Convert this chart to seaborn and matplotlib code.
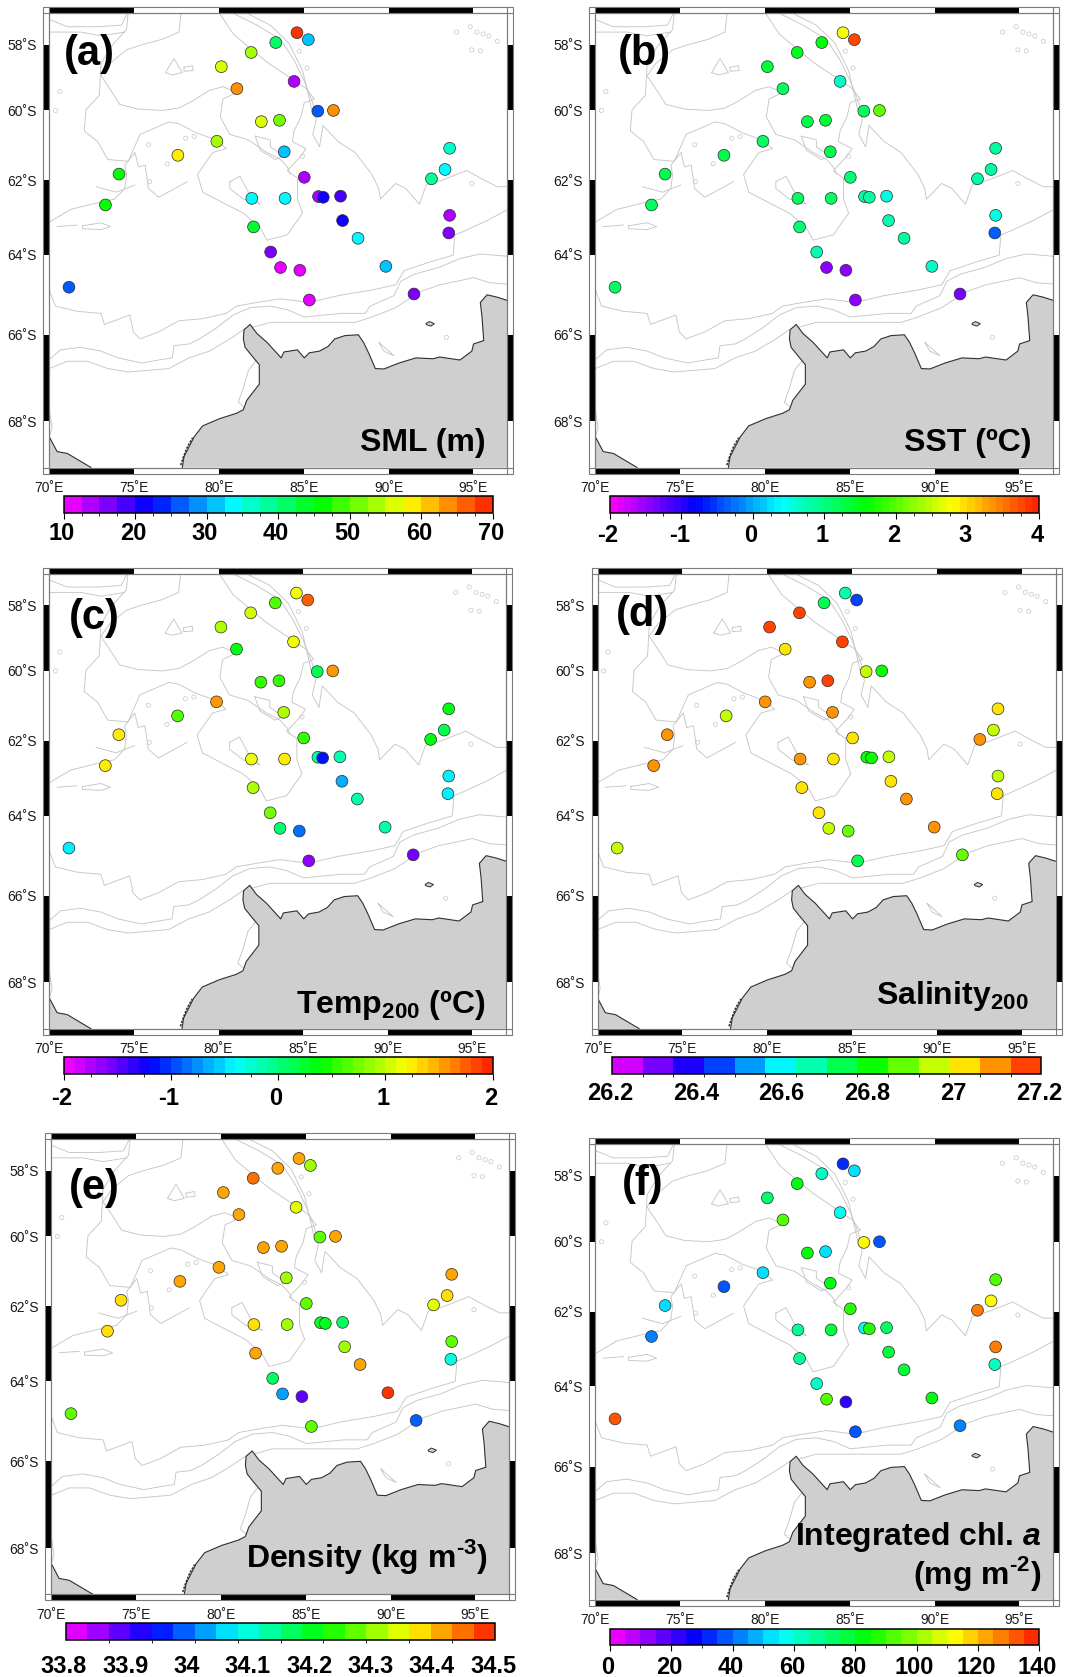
import numpy as np
import pandas as pd
import matplotlib
matplotlib.use("Agg")
import matplotlib.pyplot as plt
import matplotlib.colors as mcolors
from matplotlib.cm import ScalarMappable
from matplotlib.patches import Rectangle
from matplotlib.transforms import ScaledTranslation
import seaborn as sns

# station positions (deg E, deg S)
lon = [84.6, 85.27, 83.35, 81.9, 80.14, 81.06, 84.43, 85.83, 86.75, 82.5, 83.57, 79.88, 83.85,
       77.58, 74.11, 73.31, 85.03, 81.94, 83.9, 85.87, 86.15, 87.17, 87.29, 88.2, 82.04, 83.05,
       83.63, 84.77, 85.33, 89.84, 91.5, 93.55, 93.6, 92.53, 93.33, 93.6, 71.16]
lat = [57.62, 57.84, 57.93, 58.24, 58.68, 59.35, 59.13, 60.02, 60.0, 60.33, 60.29, 60.9, 61.2,
       61.3, 61.83, 62.68, 61.92, 62.5, 62.5, 62.45, 62.47, 62.44, 63.1, 63.57, 63.27, 63.93,
       64.33, 64.4, 65.15, 64.3, 65.0, 63.43, 62.96, 61.96, 61.7, 61.1, 64.83]

sml = [69, 31, 40, 53, 57, 63, 13, 26, 63, 57, 51, 54, 31, 59, 47, 47, 13, 33, 33, 14, 21, 19, 21,
       33, 43, 17, 12, 11, 11, 31, 16, 15, 13, 39, 33, 37, 26]
sst = [2.8, 3.8, 1.5, 1.45, 1.4, 1.2, 0.65, 1.15, 2.1, 1.3, 1.35, 1.2, 1.25, 1.25, 1.25, 1.2, 1.05,
       1.2, 1.1, 0.85, 0.9, 0.6, 0.8, 0.9, 1.05, 0.75, -1.5, -1.45, -1.45, 0.65, -1.4, -0.3, 0.55,
       0.85, 0.9, 0.9, 1.15]
temp200 = [1.15, 1.75, 0.65, 1.05, 0.95, 0.4, 1.15, 0.2, 1.5, 0.5, 0.5, 1.5, 0.95, 0.7, 1.3, 1.25,
           0.5, 1.1, 1.3, -0.1, -1.2, -0.1, -0.65, -0.1, 0.95, 0.8, 0.0, -0.8, -1.65, -0.15, -1.6,
           -0.4, -0.4, 0.4, 0.2, 0.35, -0.5]
salinity = [26.65, 26.45, 26.77, 27.17, 27.17, 27.03, 27.17, 26.93, 26.8, 27.1, 27.17, 27.1, 27.1,
            26.93, 27.1, 27.1, 27.03, 27.1, 27.03, 26.84, 26.84, 26.93, 27.03, 27.1, 27.03, 27.03,
            26.93, 26.85, 26.75, 27.1, 26.85, 27.03, 26.93, 27.1, 26.93, 27.03, 26.93]
density = [34.42, 34.29, 34.42, 34.46, 34.42, 34.42, 34.35, 34.26, 34.42, 34.42, 34.42, 34.42, 34.29,
           34.42, 34.37, 34.37, 34.26, 34.37, 34.30, 34.21, 34.21, 34.16, 34.30, 34.42, 34.42, 34.15,
           34.01, 33.87, 34.26, 34.47, 33.98, 34.10, 34.26, 34.35, 34.37, 34.42, 34.26]
chl = [30, 52, 64, 84, 74, 90, 56, 112, 38, 83, 52, 50, 84, 38, 50, 42, 88, 66, 78, 58, 87, 70, 77,
       78, 66, 63, 91, 22, 38, 84, 42, 63, 129, 129, 112, 90, 134]

coast_main = [(77.84, 69.0), (77.94, 68.77), (78.54, 68.34), (79.04, 68.1), (80.04, 67.94), (81.04, 67.82),
              (81.44, 67.74), (81.64, 67.53), (82.04, 67.33), (82.38, 67.16), (82.38, 66.71), (81.94, 66.5),
              (81.54, 66.3), (81.44, 66.1), (81.48, 65.88), (81.84, 65.75), (82.24, 65.97), (82.83, 66.18),
              (83.67, 66.55), (83.83, 66.41), (84.63, 66.36), (85.03, 66.55), (85.33, 66.43), (85.93, 66.39),
              (86.43, 66.28), (86.83, 66.1), (87.43, 66.02), (88.22, 66.0), (88.52, 66.18), (88.82, 66.43),
              (89.22, 66.8), (89.72, 66.81), (90.62, 66.67), (91.62, 66.55), (92.62, 66.57), (93.01, 66.53),
              (94.21, 66.6), (94.91, 66.39), (95.01, 66.22), (95.61, 66.14), (95.51, 65.57), (95.41, 65.21),
              (95.81, 65.02), (96.41, 65.08), (97.0, 65.16)]
coast_west = [(70.0, 68.34), (70.46, 68.66), (71.06, 68.7), (72.46, 69.0)]
island = [(92.2, 65.73), (92.4, 65.68), (92.7, 65.73), (92.5, 65.79), (92.25, 65.76), (92.2, 65.73)]
rocks = [(77.75, 68.95), (77.9, 68.78), (78.15, 68.55), (78.45, 68.36)]

contours = [
    [(70, 66.59), (70.66, 66.36), (71.86, 66.3), (73.05, 66.39), (74.05, 66.55), (75.45, 66.67), (76.45, 66.6),
     (77.25, 66.55), (77.35, 66.26), (78.24, 66.22), (78.84, 66.1), (79.84, 65.84), (80.84, 65.52), (81.84, 65.34),
     (83.03, 65.3), (84.03, 65.39), (85.03, 65.57), (86.23, 65.52), (87.23, 65.48), (88.62, 65.48), (88.92, 65.3),
     (90.32, 65.04), (90.72, 64.68), (91.52, 64.5), (93.01, 64.32), (94.21, 64.1), (95.41, 63.98), (97, 64.04)],
    [(70, 66.8), (71.06, 66.63), (72.26, 66.63), (73.45, 66.8), (74.65, 66.88), (75.85, 66.84), (77.05, 66.8),
     (78.24, 66.55), (79.44, 66.39), (80.64, 66.1), (81.44, 65.88), (83.03, 65.7), (84.43, 65.7), (86.03, 65.7),
     (88.02, 65.7), (89.02, 65.57), (90.42, 65.34), (91.82, 64.95), (93.01, 64.77), (95.01, 64.59), (96.01, 64.72),
     (97, 64.75)],
    [(70, 64.9), (70.36, 65.3), (71.66, 65.43), (73.05, 65.48), (73.25, 65.75), (74.75, 65.52), (74.95, 65.93),
     (75.35, 66.1), (76.45, 65.93), (77.64, 65.66), (79.04, 65.61), (80.44, 65.48), (81.04, 65.3), (82.24, 65.21),
     (83.63, 65.12), (85.33, 65.21), (87.03, 65.04), (89.02, 64.9), (90.42, 64.77), (90.92, 64.41), (92.42, 64.19),
     (93.81, 64.01), (93.91, 63.48), (94.41, 63.39), (95.81, 63.1), (97, 62.81)],
    [(77.76, 57.0), (77.64, 57.6), (76.65, 57.83), (75.45, 58), (74.55, 58.16), (73.55, 58.59), (73.05, 58.96),
     (73.75, 59.5), (74.15, 59.82), (75.25, 59.96), (76.65, 60), (77.64, 59.93), (78.44, 59.72), (79.44, 59.4),
     (80.24, 59.29), (81.04, 59.47), (80.24, 59.66), (80.08, 60.19), (80.64, 60.7), (81.74, 60.86), (82.83, 61.22),
     (83.63, 61.42), (84.03, 61.63), (84.23, 61.84)],
    [(74.65, 57.0), (74.55, 57.52), (73.65, 58.05), (73.05, 58.59), (72.95, 59.55), (72.16, 59.98), (72.06, 60.6),
     (72.85, 60.91), (73.45, 61.42), (74.65, 61.47), (75.35, 60.7), (77.05, 60.34), (77.64, 60.39), (78.64, 60.65),
     (79.84, 60.86), (80.44, 61.11), (79.64, 61.22), (79.04, 61.63), (78.74, 61.84), (79.04, 62.33), (80.24, 62.62),
     (81.44, 62.9), (82.44, 63.29), (82.83, 63.62), (84.03, 63.48), (84.93, 62.9), (84.63, 62.52), (84.63, 61.94),
     (84.03, 61.74), (84.83, 61.32), (85.13, 61.11), (84.33, 60.91), (84.43, 60.6), (84.83, 60.19), (85.03, 59.77),
     (85.63, 59.66), (85.13, 59.34), (84.03, 58.96), (82.83, 58.54), (81.84, 58.11), (80.84, 57.66), (80.04, 57.0)],
    [(80.84, 57.0), (82.24, 57.38), (83.63, 57.83), (84.43, 58.48), (85.03, 59.12), (85.53, 59.77), (85.73, 60.29),
     (85.53, 60.7), (85.93, 61.06), (86.13, 60.44), (87.03, 60.91), (88.02, 61.22), (89.02, 61.84), (89.42, 62.23),
     (89.52, 62.52), (90.42, 62.09), (91.02, 62.23), (91.82, 62.66), (92.22, 62.13), (93.21, 61.99), (94.61, 61.73),
     (95.41, 61.94), (96.41, 62.18), (97, 62.18)],
    [(81.64, 57.0), (83.03, 57.38), (84.13, 57.95), (84.93, 58.8), (85.33, 59.66), (85.47, 59.98)],
    [(70, 57.2), (71.06, 57.43), (72.85, 57.43), (74.25, 57.38), (74.6, 57.0)],
    [(70, 57.6), (71.86, 57.6), (73.05, 57.72), (74.45, 57.6)],
    [(70, 63.14), (71.26, 62.8), (72.85, 62.62), (73.85, 62.52), (74.45, 62.23), (74.55, 61.84), (74.45, 61.58),
     (75.05, 61.22), (75.25, 61.63), (75.65, 61.58), (75.85, 62.23), (76.45, 62.47), (78.14, 62.04)],
    [(72.75, 62.18), (73.95, 62.33), (75.05, 62.13)],
    [(71.96, 63.24), (73.05, 63.16), (73.61, 63.26), (73.05, 63.34), (71.96, 63.32), (71.96, 63.24)],
    [(70.46, 63.26), (71.66, 63.22)],
    [(76.85, 58.86), (77.35, 58.43), (77.84, 58.86), (77.25, 58.93), (76.85, 58.86)],
    [(77.94, 58.7), (78.44, 58.65), (78.48, 58.8), (77.94, 58.82), (77.94, 58.7)],
    [(80.64, 62.04), (81.24, 61.89), (81.74, 62.33), (82.44, 62.66), (81.44, 62.52), (80.64, 62.23), (80.64, 62.04)],
    [(82.14, 60.75), (83.03, 60.86), (83.03, 61.06), (83.83, 61.32), (83.33, 61.42), (82.44, 61.16), (82.14, 60.75)],
    [(89.42, 66.18), (90.32, 66.5), (89.72, 66.39), (89.42, 66.18)],
    [(82.24, 66.59), (81.74, 66.84), (81.44, 67.25), (81.14, 67.57), (81.64, 67.74)],
    [(70, 67.74), (70.16, 68.14), (70, 68.34)],
]
ring_lon = [94.81, 95.21, 95.57, 95.91, 96.41, 95.41, 94.91, 94.01, 70.62, 70.36, 75.85, 78.04, 78.54, 76.95, 75.91,
            94.91, 93.41, 84.73, 85.19, 84.93]
ring_lat = [57.43, 57.6, 57.66, 57.72, 57.89, 58.19, 58.16, 57.6, 59.44, 60.0, 61.0, 60.81, 60.76, 61.54, 62.04,
            62.09, 66.06, 58.2, 58.72, 61.33]

lon_ticks = [70, 75, 80, 85, 90, 95]
lat_ticks = [58, 60, 62, 64, 66, 68]

W, H = 1067, 1677

stations = pd.DataFrame({"lon": lon, "lat": lat, "sml": sml, "sst": sst, "temp200": temp200,
                         "salinity": salinity, "density": density, "chl": chl})

sns.set_style("white")
plt.rcParams["font.family"] = ["Liberation Sans", "DejaVu Sans"]
plt.rcParams["mathtext.fontset"] = "custom"
plt.rcParams["mathtext.rm"] = "Liberation Sans"
plt.rcParams["mathtext.bf"] = "Liberation Sans:bold"
plt.rcParams["mathtext.bfit"] = "Liberation Sans:italic:bold"
plt.rcParams["axes.grid"] = False
plt.rcParams["text.color"] = "black"
plt.rcParams["xtick.color"] = "black"
plt.rcParams["ytick.color"] = "black"

rainbow = mcolors.LinearSegmentedColormap.from_list(
    "gmt_rainbow", ["#ff00ff", "#0000ff", "#00ffff", "#00ff00", "#ffff00", "#ff1a00"])


def merc(y):
    return np.arctanh(np.sin(np.radians(y)))


def merc_inv(y):
    return np.degrees(np.arcsin(np.tanh(y)))


def draw_map(ax, col, norm, cmap):
    ax.set_xlim(70, 97)
    ax.set_yscale("function", functions=(merc, merc_inv))
    ax.set_ylim(69, 57)

    for line in contours:
        xs, ys = zip(*line)
        ax.plot(xs, ys, color="#c6c6c6", lw=0.65, zorder=1)
    ax.scatter(ring_lon, ring_lat, s=9, facecolors="none", edgecolors="#c6c6c6", linewidths=0.5, zorder=1)

    xs, ys = zip(*coast_main)
    ax.fill(list(xs) + [97], list(ys) + [69], color="#cfcfcf", lw=0, zorder=2)
    ax.plot(xs, ys, color="#303030", lw=0.8, zorder=3)
    xs, ys = zip(*coast_west)
    ax.fill(list(xs) + [70], list(ys) + [69], color="#cfcfcf", lw=0, zorder=2)
    ax.plot(xs, ys, color="#303030", lw=0.8, zorder=3)
    xs, ys = zip(*island)
    ax.fill(xs, ys, facecolor="#cfcfcf", edgecolor="#303030", lw=0.7, zorder=3)
    xs, ys = zip(*rocks)
    ax.plot(xs, ys, color="#303030", lw=1.1, ls=(0, (1.5, 0.8)), zorder=3)

    sns.scatterplot(data=stations, x="lon", y="lat", hue=col, palette=cmap, hue_norm=norm, s=72,
                    edgecolor="#2b2b2b", linewidth=0.5, legend=False, ax=ax, zorder=5)
    ax.set_xlabel("")
    ax.set_ylabel("")
    ax.set_xlim(70, 97)
    ax.set_ylim(69, 57)
    ax.set_xticks(lon_ticks, [f"{v}˚E" for v in lon_ticks])
    ax.set_yticks(lat_ticks, [f"{v}˚S" for v in lat_ticks])
    ax.minorticks_off()
    ax.tick_params(axis="x", length=0, pad=9.5, labelsize=10, colors="#1a1a1a")
    ax.tick_params(axis="y", length=0, pad=9, labelsize=10, colors="#1a1a1a")
    for s in ax.spines.values():
        s.set_color("#7a7a7a")
        s.set_linewidth(0.8)
        s.set_zorder(6)


def draw_frame(ax, x0, x1, y0, y1):
    bw = 6.0 / (x1 - x0)
    bh = 6.0 / (y1 - y0)
    xtr = ax.get_xaxis_transform()
    ytr = ax.get_yaxis_transform()
    for a, b in zip([70, 80, 90], [75, 85, 95]):
        ax.add_patch(Rectangle((a, 1), b - a, bh, transform=xtr, color="black", lw=0, clip_on=False))
        ax.add_patch(Rectangle((a, -bh), b - a, bh, transform=xtr, color="black", lw=0, clip_on=False))
    for a, b in zip([58, 62, 66], [60, 64, 68]):
        ax.add_patch(Rectangle((-bw, a), bw, b - a, transform=ytr, color="black", lw=0, clip_on=False))
        ax.add_patch(Rectangle((1, a), bw, b - a, transform=ytr, color="black", lw=0, clip_on=False))
    ax.add_patch(Rectangle((-bw, -bh), 1 + 2 * bw, 1 + 2 * bh, transform=ax.transAxes, fill=False,
                           edgecolor="#7a7a7a", lw=0.8, clip_on=False))
    for px in [0, 1]:
        ax.plot([px, px], [-bh, 1 + bh], transform=ax.transAxes, color="#7a7a7a", lw=0.8, clip_on=False)
    for py in [0, 1]:
        ax.plot([-bw, 1 + bw], [py, py], transform=ax.transAxes, color="#7a7a7a", lw=0.8, clip_on=False)


panels = [
    dict(col="sml", tag="(a)", tag_xy=(89.3, 54), map_box=(49.3, 507.3, 13.3, 467.5), cb_box=(63.7, 492.7, 496.3, 513.3),
         vmin=10, vmax=70, n=24, labels=[10, 20, 30, 40, 50, 60, 70], tl=["10", "20", "30", "40", "50", "60", "70"],
         minor=2.5, major_len=4, pad=2.2,
         notes=[("SML (m)", 486, 450.7)]),
    dict(col="sst", tag="(b)", tag_xy=(644.7, 53.6), map_box=(595.4, 1053.3, 13.3, 467.5), cb_box=(609.8, 1039, 496.3, 513.3),
         vmin=-2, vmax=4, n=60, labels=[-2, -1, 0, 1, 2, 3, 4], tl=["-2", "-1", "0", "1", "2", "3", "4"],
         minor=0.25, major_len=4, pad=3.9,
         notes=[("SST (ºC)", 1031.8, 450.7)]),
    dict(col="temp200", tag="(c)", tag_xy=(94, 617.9), map_box=(49.3, 506.3, 573.6, 1028.7), cb_box=(63.7, 492.5, 1057.3, 1074.3),
         vmin=-2, vmax=2, n=40, labels=[-2, -1, 0, 1, 2], tl=["-2", "-1", "0", "1", "2"],
         minor=0.25, major_len=4, pad=5.3,
         notes=[(r"Temp$_{\mathbf{200}}$ (ºC)", 485, 1013.5)]),
    dict(col="salinity", tag="(d)", tag_xy=(643, 615.4), map_box=(597.5, 1055.7, 573.6, 1028.7), cb_box=(611.9, 1041.3, 1057.3, 1074.3),
         vmin=26.2, vmax=27.2, n=14, labels=[26.2, 26.4, 26.6, 26.8, 27.0, 27.2], tl=["26.2", "26.4", "26.6", "26.8", "27", "27.2"],
         minor=1 / 14, major_len=0, pad=5.5,
         notes=[(r"Salinity$_{\mathbf{200}}$", 1028.3, 1003.9)]),
    dict(col="density", tag="(e)", tag_xy=(94, 1187.6), map_box=(51.3, 509.4, 1139, 1594.4), cb_box=(65.9, 495.2, 1623.3, 1640.1),
         vmin=33.8, vmax=34.5, n=20, labels=[33.8, 33.9, 34.0, 34.1, 34.2, 34.3, 34.4, 34.5],
         tl=["33.8", "33.9", "34", "34.1", "34.2", "34.3", "34.4", "34.5"],
         minor=0.07, major_len=0, pad=10.7,
         notes=[("Density (kg m$^{\\mathbf{\u20103}}$)", 488.4, 1566.8)]),
    dict(col="chl", tag="(f)", tag_xy=(643, 1184), map_box=(595.4, 1053.3, 1144.4, 1599.6), cb_box=(609.8, 1039.3, 1628.7, 1645.3),
         vmin=0, vmax=140, n=28, labels=[0, 20, 40, 60, 80, 100, 120, 140], tl=["0", "20", "40", "60", "80", "100", "120", "140"],
         minor=10, major_len=4, pad=3.9,
         notes=[(r"Integrated chl. $\mathbfit{a}$", 1041.4, 1545.2), ("(mg m$^{\\mathbf{\u20102}}$)", 1041.4, 1583.6)]),
]

fig = plt.figure(figsize=(W / 100, H / 100), dpi=100)

for p in panels:
    x0, x1, y0, y1 = p["map_box"]
    ax = fig.add_axes([x0 / W, 1 - y1 / H, (x1 - x0) / W, (y1 - y0) / H])
    bounds = np.linspace(p["vmin"], p["vmax"], p["n"] + 1)
    cmap = mcolors.ListedColormap(rainbow((np.arange(p["n"]) + 0.5) / p["n"]))
    norm = mcolors.BoundaryNorm(bounds, cmap.N)
    draw_map(ax, p["col"], norm, cmap)
    draw_frame(ax, x0, x1, y0, y1)

    cx0, cx1, cy0, cy1 = p["cb_box"]
    cax = fig.add_axes([cx0 / W, 1 - cy1 / H, (cx1 - cx0) / W, (cy1 - cy0) / H])
    cb = fig.colorbar(ScalarMappable(norm=norm, cmap=cmap), cax=cax, orientation="horizontal", spacing="proportional")
    cb.set_ticks(p["labels"], labels=p["tl"])
    cb.ax.set_xticks(np.arange(p["vmin"], p["vmax"] + 1e-6, p["minor"]), minor=True)
    cb.ax.tick_params(axis="x", which="major", length=p["major_len"], width=0.8, pad=p["pad"], labelsize=17)
    cb.ax.tick_params(axis="x", which="minor", length=2.5, width=0.7, color="#222222")
    cb.outline.set_edgecolor("black")
    cb.outline.set_linewidth(1.1)
    shift = ScaledTranslation(-2 / 100, 0, fig.dpi_scale_trans)
    for lab in cb.ax.get_xticklabels():
        lab.set_fontweight("bold")
        lab.set_transform(lab.get_transform() + shift)

    fig.text(p["tag_xy"][0] / W, 1 - p["tag_xy"][1] / H, p["tag"], fontsize=30, fontweight="bold",
             ha="center", va="center", zorder=10)
    for txt, tx, ty in p["notes"]:
        fig.text(tx / W, 1 - ty / H, txt, fontsize=23, fontweight="bold", ha="right", va="baseline", zorder=10)

fig.savefig("out.png", dpi=100)
